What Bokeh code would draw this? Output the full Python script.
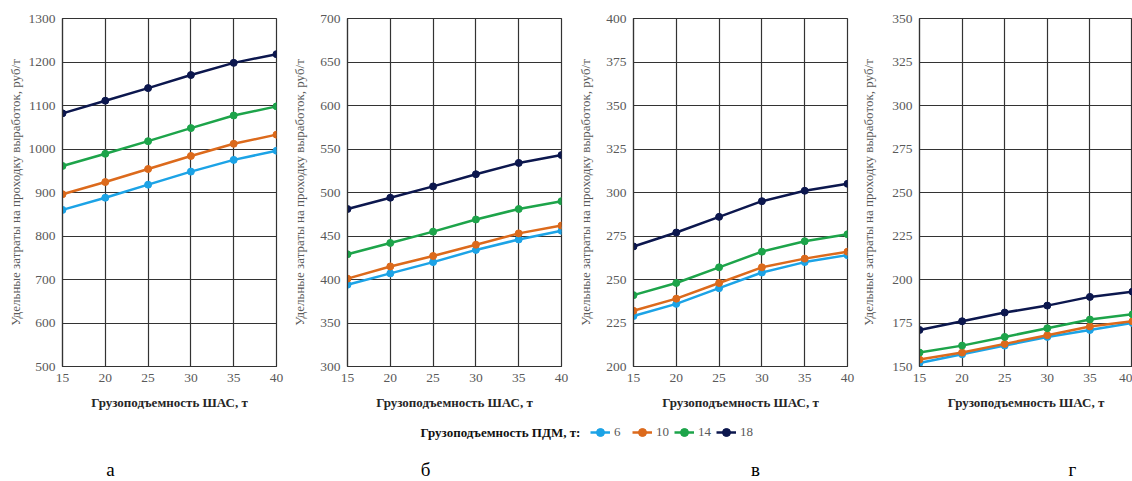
from bokeh.plotting import figure
from bokeh.layouts import column, row
from bokeh.models import Legend, LegendItem, Label, FixedTicker, Range1d
from bokeh.embed import file_html
from bokeh.resources import INLINE

x_shas = [15, 20, 25, 30, 35, 40]
pdm_labels = ["6", "10", "14", "18"]
colors = ["#1CA3E6", "#DC6A1C", "#1DA44A", "#0C174E"]

a_pdm6 = [860, 888, 918, 948, 975, 996]
a_pdm10 = [896, 924, 954, 984, 1012, 1033]
a_pdm14 = [961, 989, 1018, 1048, 1077, 1098]
a_pdm18 = [1082, 1111, 1140, 1170, 1198, 1218]

b_pdm6 = [394, 407, 420, 434, 446, 456]
b_pdm10 = [401, 415, 427, 440, 453, 462]
b_pdm14 = [429, 442, 455, 469, 481, 490]
b_pdm18 = [481, 494, 507, 521, 534, 543]

c_pdm6 = [229, 236, 245, 254, 260, 264]
c_pdm10 = [232, 239, 248, 257, 262, 266]
c_pdm14 = [241, 248, 257, 266, 272, 276]
c_pdm18 = [269, 277, 286, 295, 301, 305]

d_pdm6 = [152, 157, 162, 167, 171, 175]
d_pdm10 = [154, 158, 163, 168, 173, 176]
d_pdm14 = [158, 162, 167, 172, 177, 180]
d_pdm18 = [171, 176, 181, 185, 190, 193]

y_axis_title = "Удельные затраты на проходку выработок, руб/т"
x_axis_title = "Грузоподъемность ШАС, т"
legend_title = "Грузоподъемность ПДМ, т:"
panel_letters = ["а", "б", "в", "г"]

panels = [
    dict(series=[a_pdm6, a_pdm10, a_pdm14, a_pdm18], ymin=500, ymax=1300, step=100, lstand=3, rb=9, fw=214),
    dict(series=[b_pdm6, b_pdm10, b_pdm14, b_pdm18], ymin=300, ymax=700, step=50, lstand=10, rb=10, fw=214),
    dict(series=[c_pdm6, c_pdm10, c_pdm14, c_pdm18], ymin=200, ymax=400, step=25, lstand=10, rb=10, fw=214),
    dict(series=[d_pdm6, d_pdm10, d_pdm14, d_pdm18], ymin=150, ymax=350, step=25, lstand=13, rb=0, fw=213),
]

FONT = "'Liberation Serif', 'Times New Roman', serif"
GRID = "#333333"
figs = []
for pd_ in panels:
    p = figure(frame_width=pd_["fw"], frame_height=348,
               min_border_left=62, min_border_right=pd_["rb"], min_border_top=18, min_border_bottom=46,
               x_range=Range1d(15, 40), y_range=Range1d(pd_["ymin"], pd_["ymax"]),
               output_backend="svg", toolbar_location=None)
    p.outline_line_color = GRID
    p.outline_line_width = 1.2
    p.background_fill_color = "white"
    p.border_fill_color = "white"
    p.xaxis.ticker = FixedTicker(ticks=x_shas)
    p.yaxis.ticker = FixedTicker(ticks=list(range(pd_["ymin"], pd_["ymax"] + 1, pd_["step"])))
    for ax in [p.xaxis[0], p.yaxis[0]]:
        ax.major_tick_out = 0
        ax.major_tick_in = 0
        ax.minor_tick_out = 0
        ax.minor_tick_in = 0
        ax.axis_line_color = GRID
        ax.axis_line_width = 1.2
        ax.major_label_text_font = FONT
        ax.major_label_text_font_size = "13.5px"
        ax.major_label_text_color = "#595959"
        ax.major_label_standoff = 7
        ax.axis_label_text_font = FONT
        ax.axis_label_text_font_size = "13px"
    p.xaxis.axis_label = x_axis_title
    p.xaxis.axis_label_text_font_style = "bold"
    p.xaxis.axis_label_text_color = "#262626"
    p.xaxis.axis_label_standoff = 10
    p.yaxis.axis_label = y_axis_title
    p.yaxis.axis_label_text_font_style = "normal"
    p.yaxis.axis_label_text_color = "#595959"
    p.yaxis.axis_label_standoff = pd_["lstand"]
    p.xgrid.grid_line_color = GRID
    p.ygrid.grid_line_color = GRID
    p.xgrid.grid_line_width = 1.2
    p.ygrid.grid_line_width = 1.2
    for ys, c in zip(pd_["series"], colors):
        p.line(x_shas, ys, line_color=c, line_width=2.5)
        p.scatter(x_shas, ys, size=7, fill_color=c, line_color=c)
    figs.append(p)

# legend strip (renderers lie outside its ranges, only the legend glyphs show)
leg = figure(width=1132, height=35, x_range=Range1d(0, 1), y_range=Range1d(0, 1),
             output_backend="svg", toolbar_location=None,
             min_border_left=0, min_border_right=0, min_border_top=0, min_border_bottom=0)
leg.axis.visible = False
leg.grid.visible = False
leg.outline_line_color = None
items = []
for lab, c, ys in zip(pdm_labels, colors, [a_pdm6, a_pdm10, a_pdm14, a_pdm18]):
    r1 = leg.line(x_shas, ys, line_color=c, line_width=2.5)
    r2 = leg.scatter(x_shas, ys, size=6, fill_color=c, line_color=c)
    items.append(LegendItem(label=lab, renderers=[r1, r2]))
legend = Legend(items=items, orientation="horizontal", location=(590, 5),
                padding=0, margin=0, spacing=0, glyph_width=20, glyph_height=20,
                label_width=18, label_standoff=4,
                label_text_font=FONT, label_text_font_size="13px", label_text_color="#595959",
                border_line_color=None, background_fill_alpha=0)
leg.add_layout(legend)
leg.add_layout(Label(x=420, y=15, x_units="screen", y_units="screen", text=legend_title,
                     text_font=FONT, text_font_size="13px", text_font_style="bold",
                     text_color="#111111", text_baseline="middle", text_align="left"))

# letters strip
let = figure(width=1132, height=34, x_range=Range1d(0, 1), y_range=Range1d(0, 1),
             output_backend="svg", toolbar_location=None,
             min_border_left=0, min_border_right=0, min_border_top=0, min_border_bottom=0)
let.axis.visible = False
let.grid.visible = False
let.outline_line_color = None
for lx, t in zip([110, 425, 755, 1072], panel_letters):
    let.add_layout(Label(x=lx, y=2, x_units="screen", y_units="screen", text=t,
                         text_font=FONT, text_font_size="19px", text_color="#000000",
                         text_align="center", text_baseline="bottom"))

layout = column(row(*figs, spacing=0), leg, let, spacing=0)
open("out.html", "w").write(file_html(layout, INLINE))
